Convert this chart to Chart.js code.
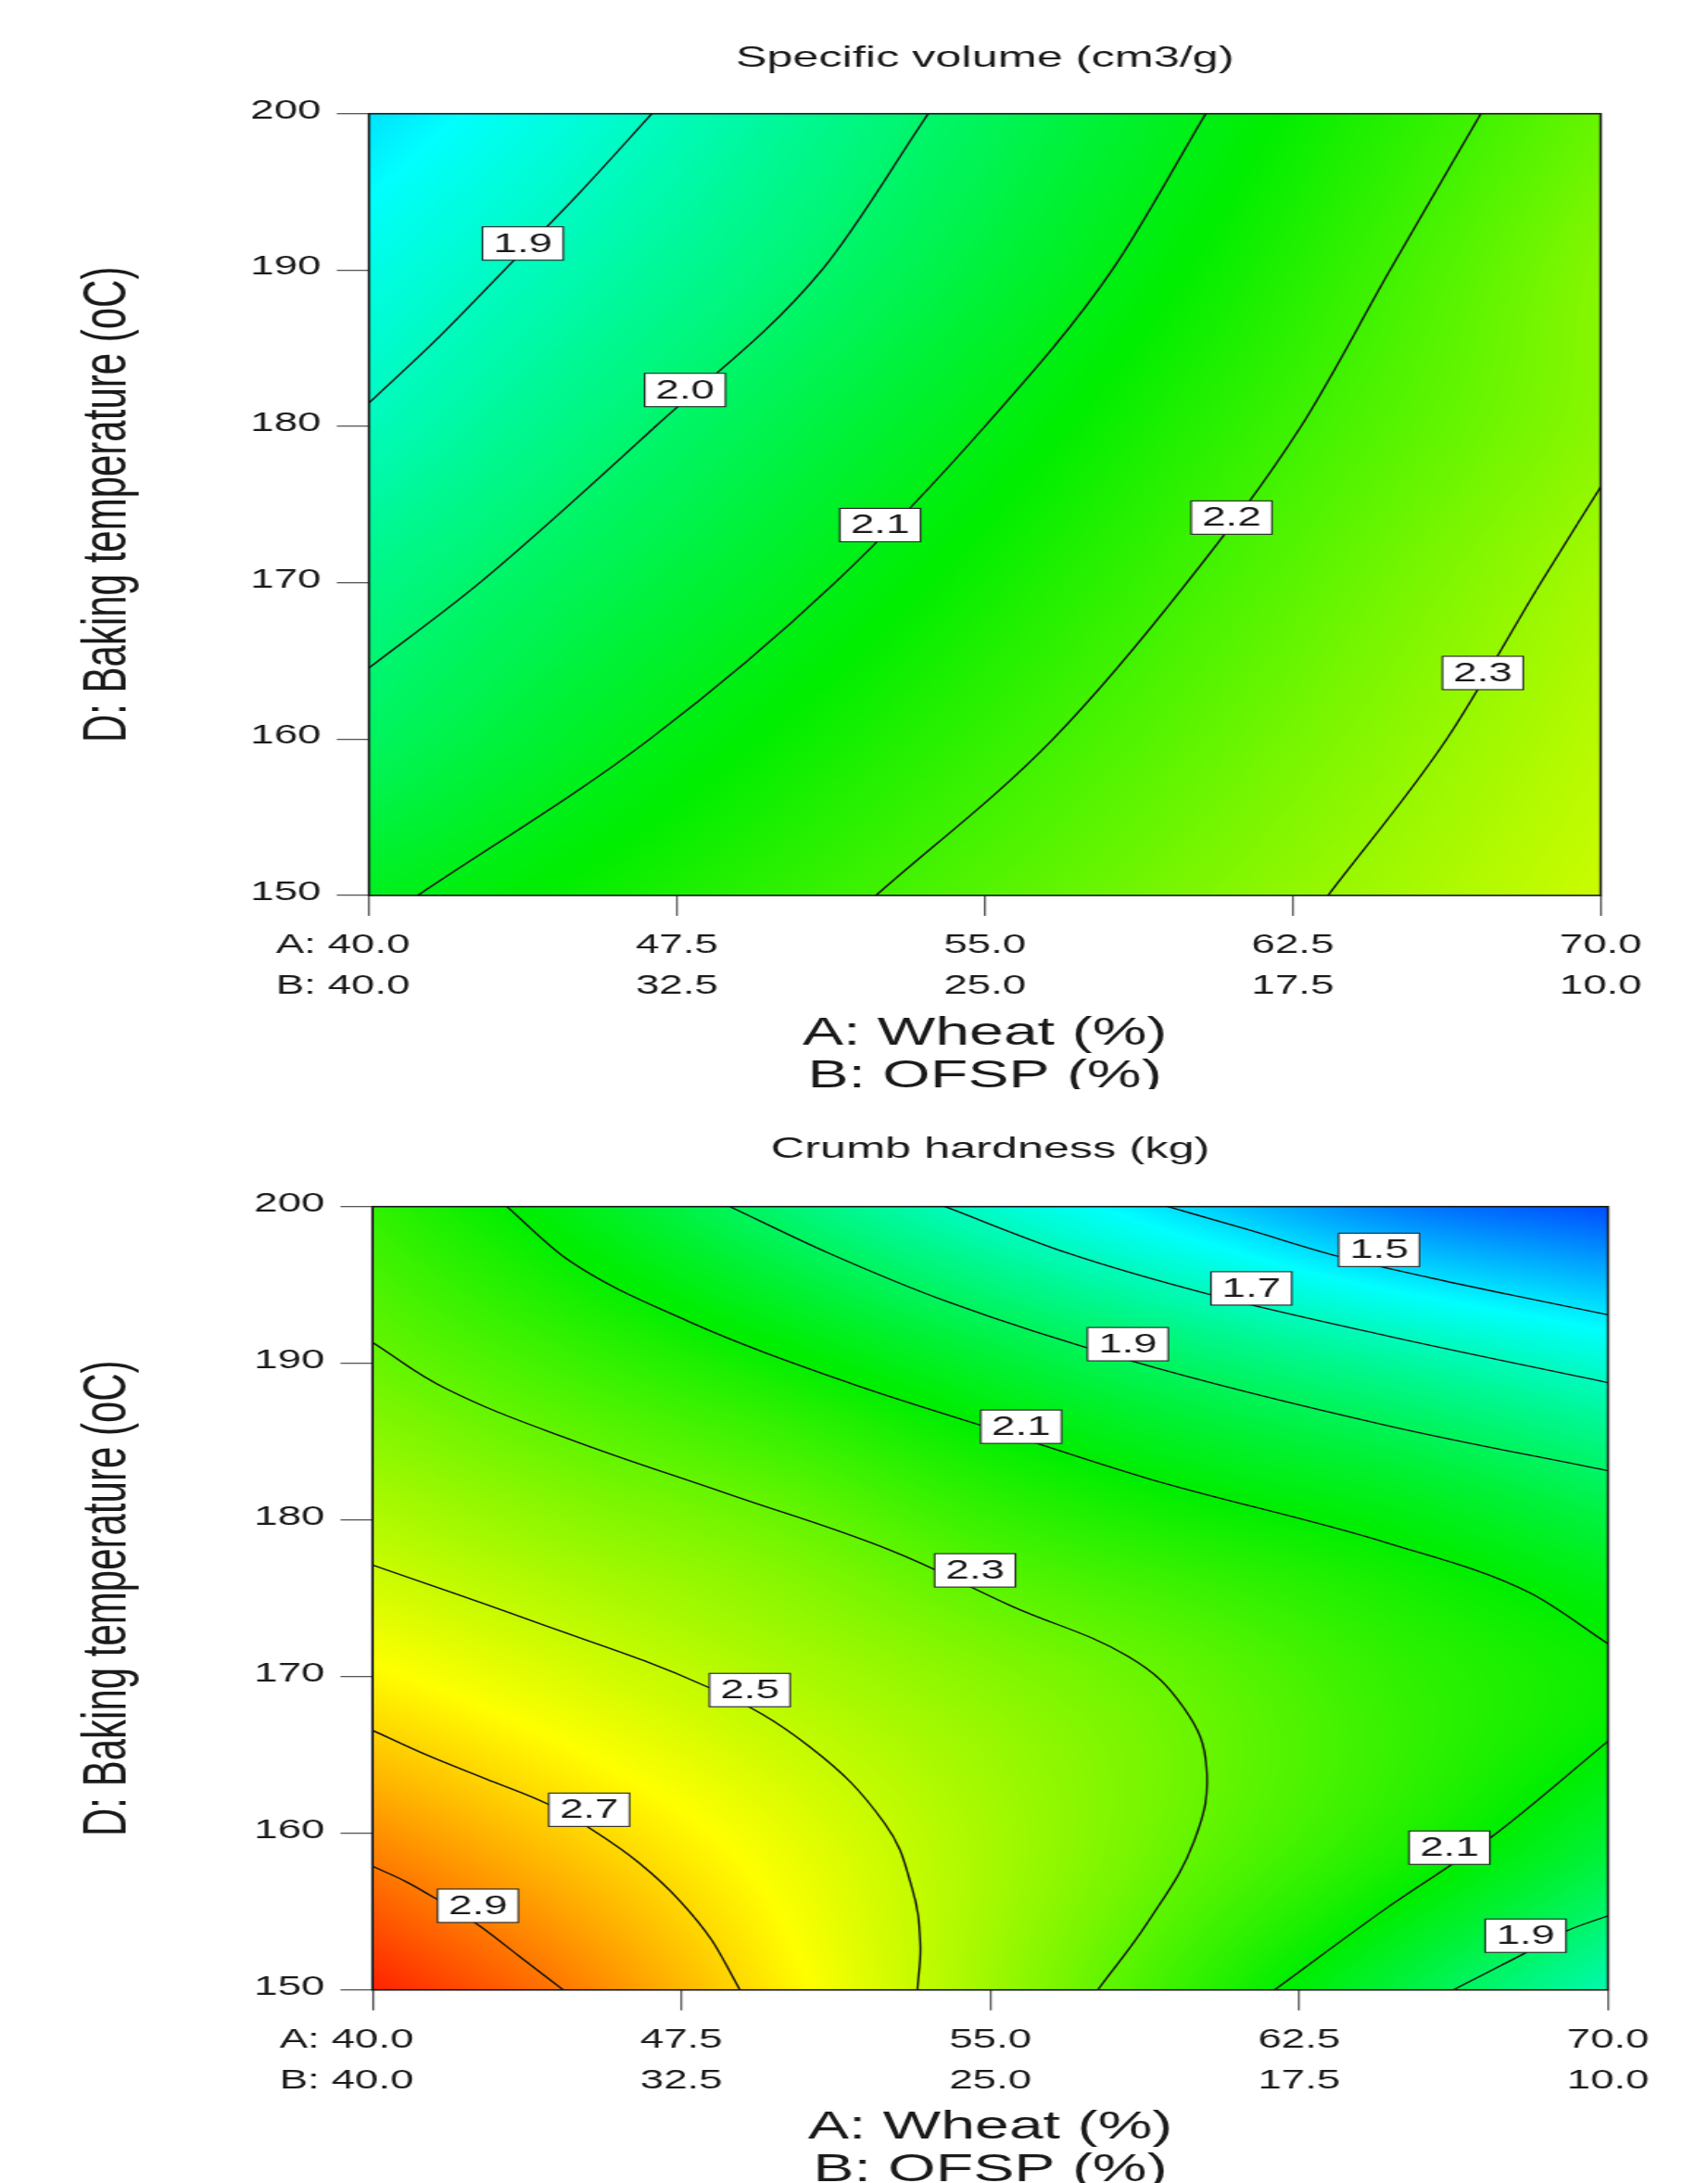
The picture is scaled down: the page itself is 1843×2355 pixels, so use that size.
<!DOCTYPE html>
<html>
<head>
<meta charset="utf-8">
<script src="https://cdn.jsdelivr.net/npm/chart.js@4.4.0/dist/chart.umd.min.js"></script>
<style>
  html, body { margin: 0; padding: 0; background: #fff; overflow: hidden; }
  /* the reference figure is a square plot stretched sideways, so each panel is drawn narrow and scaled in x */
  .panel { position: absolute; left: 0; width: 1170px; transform-origin: 0 0; transform: scaleX(1.5752); }
  #p1 { top: 0; height: 1175px; }
  #p2 { top: 1177px; height: 1178px; }
</style>
</head>
<body>
<div class="panel" id="p1"><canvas id="c1" width="1170" height="1175"></canvas></div>
<div class="panel" id="p2"><canvas id="c2" width="1170" height="1178"></canvas></div>
<script>
var FONT = '"Liberation Sans", Arial, sans-serif';
var TXT = '#1a1a1a';

// axis ticks
var xTicksA = ['40.0', '47.5', '55.0', '62.5', '70.0'];
var xTicksB = ['40.0', '32.5', '25.0', '17.5', '10.0'];
var yTicks = [150, 160, 170, 180, 190, 200];

var gridA = [40, 45, 50, 55, 60, 65, 70];
var gridD = [150, 160, 170, 180, 190, 200];

// ---- Specific volume (cm3/g) ----
var svGrid = [
  [2.089, 2.134, 2.179, 2.224, 2.269, 2.315, 2.360],
  [2.015, 2.077, 2.132, 2.183, 2.235, 2.287, 2.339],
  [1.969, 2.027, 2.084, 2.143, 2.201, 2.259, 2.317],
  [1.908, 1.974, 2.038, 2.100, 2.165, 2.226, 2.285],
  [1.858, 1.922, 1.987, 2.056, 2.128, 2.202, 2.279],
  [1.797, 1.872, 1.946, 2.020, 2.094, 2.169, 2.244]
];
var sv19 = [[40, 181.5], [41.7, 185.7], [43.3, 190], [45.15, 195], [46.89, 200]];
var sv20 = [[40, 164.55], [42.7, 170], [46.98, 180], [51.03, 190], [53.62, 200]];
var sv21 = [[41.19, 150], [46.84, 160], [51.35, 170], [55.0, 180], [58.10, 190], [60.38, 200]];
var sv22 = [[52.35, 150], [56.66, 160], [59.92, 170], [62.70, 180], [64.87, 190], [67.08, 200]];
var sv23 = [[63.36, 150], [66.25, 160], [68.54, 170], [70, 176.13]];
var svLabels = [['1.9', 43.75, 191.7], ['2.0', 47.70, 182.33], ['2.1', 52.45, 173.69], ['2.2', 61.01, 174.17], ['2.3', 67.13, 164.23]];

// ---- Crumb hardness (kg) ----
var chGrid = [
  [3.08, 2.883, 2.65, 2.419, 2.189, 1.957, 1.725],
  [2.851, 2.71, 2.573, 2.435, 2.30, 2.163, 1.995],
  [2.635, 2.541, 2.45, 2.369, 2.29, 2.19, 2.115],
  [2.459, 2.379, 2.31, 2.203, 2.125, 2.06, 1.957],
  [2.31, 2.211, 2.107, 1.988, 1.871, 1.762, 1.645],
  [2.19, 2.036, 1.849, 1.659, 1.474, 1.29, 1.19]
];
var ch15 = [[59.31, 200], [61.27, 198.52], [63.41, 196.85], [65.66, 195.47], [67.61, 194.38], [70, 193.1]];
var ch17 = [[53.9, 200], [56.87, 197.04], [60.34, 194.38], [64.68, 191.72], [70, 188.76]];
var ch19a = [[48.68, 200], [51.07, 197.04], [54.0, 193.89], [58.44, 190.14], [64.68, 186.0], [70, 183.14]];
var ch21a = [[43.26, 200], [44.72, 196.65], [47.65, 192.7], [51.56, 188.76], [55.3, 185.6], [58.83, 182.64], [64.68, 178.5], [68.10, 175.35], [70, 172.09]];
var ch23 = [[40, 191.33], [41.79, 188.37], [44.72, 185.21], [48.63, 181.66], [52.53, 178.11], [55.5, 174.52], [58.34, 171.30], [59.7, 168.0], [60.25, 164.2], [59.95, 159.5], [58.83, 154.34], [57.61, 150]];
var ch25 = [[40, 177.12], [43.75, 173.67], [48.14, 169.33], [50.58, 165.59], [52.43, 160.65], [53.1, 156.5], [53.3, 153], [53.23, 150]];
var ch27 = [[40, 166.57], [41.31, 165.0], [42.77, 163.45], [44.28, 161.83], [45.31, 160.26], [46.48, 158.09], [47.45, 155.72], [48.24, 153.16], [48.92, 150]];
var ch29 = [[40, 157.89], [40.82, 156.9], [41.6, 155.72], [42.57, 154.14], [43.55, 152.17], [44.63, 150]];
var ch21b = [[61.90, 150], [64.68, 155.33], [67.22, 159.86], [70, 165.88]];
var ch19b = [[66.24, 150], [67.12, 151.18], [68.0, 152.37], [68.98, 153.75], [70, 154.73]];
var chLabels = [['1.5', 64.44, 197.24], ['1.7', 61.34, 194.78], ['1.9', 58.34, 191.22], ['2.1', 55.75, 185.95], ['2.3', 54.63, 176.78],
                ['2.5', 49.16, 169.14], ['2.7', 45.26, 161.5], ['2.9', 42.56, 155.37], ['2.1', 66.15, 159.08], ['1.9', 68.0, 153.46]];

// colour ramp blue -> cyan -> green -> yellow -> red
var rampStops = [[0, [0, 0, 255]], [0.25, [0, 255, 255]], [0.5, [0, 238, 0]], [0.75, [255, 255, 0]], [1, [255, 0, 0]]];
function rampColor(t) {
  if (t <= 0) return rampStops[0][1];
  if (t >= 1) return rampStops[rampStops.length - 1][1];
  for (var i = 1; i < rampStops.length; i++) {
    if (t <= rampStops[i][0]) {
      var a = rampStops[i - 1], b = rampStops[i];
      var f = (t - a[0]) / (b[0] - a[0]);
      return [a[1][0] + (b[1][0] - a[1][0]) * f, a[1][1] + (b[1][1] - a[1][1]) * f, a[1][2] + (b[1][2] - a[1][2]) * f];
    }
  }
}

// smooth reading between the grid values
function cr(p0, p1, p2, p3, t) {
  return p1 + 0.5 * t * (p2 - p0 + t * (2 * p0 - 5 * p1 + 4 * p2 - p3 + t * (3 * (p1 - p2) + p3 - p0)));
}
function gridVal(g, r, c) {
  var nr = g.length, nc = g[0].length;
  if (r < 0) return 2 * gridVal(g, 0, c) - gridVal(g, 1, c);
  if (r >= nr) return 2 * gridVal(g, nr - 1, c) - gridVal(g, nr - 2, c);
  if (c < 0) return 2 * g[r][0] - g[r][1];
  if (c >= nc) return 2 * g[r][nc - 1] - g[r][nc - 2];
  return g[r][c];
}
function surfaceAt(g, A, D) {
  var gx = (A - gridA[0]) / (gridA[1] - gridA[0]);
  var gy = (D - gridD[0]) / (gridD[1] - gridD[0]);
  var c = Math.min(Math.max(Math.floor(gx), 0), g[0].length - 2);
  var r = Math.min(Math.max(Math.floor(gy), 0), g.length - 2);
  var fx = gx - c, fy = gy - r;
  var rows = [];
  for (var k = -1; k <= 2; k++) {
    rows.push(cr(gridVal(g, r + k, c - 1), gridVal(g, r + k, c), gridVal(g, r + k, c + 1), gridVal(g, r + k, c + 2), fx));
  }
  return cr(rows[0], rows[1], rows[2], rows[3], fy);
}

function surfacePlugin(grid, lo, hi) {
  return {
    id: 'surface',
    beforeDatasetsDraw: function(chart) {
      var a = chart.chartArea, xs = chart.scales.x, ys = chart.scales.y;
      var w = Math.round(a.right - a.left), h = Math.round(a.bottom - a.top);
      var off = document.createElement('canvas');
      off.width = w; off.height = h;
      var octx = off.getContext('2d');
      var img = octx.createImageData(w, h), d = img.data;
      var colA = [], rowD = [];
      for (var i = 0; i < w; i++) colA.push(xs.getValueForPixel(a.left + (i + 0.5) * (a.right - a.left) / w));
      for (var j = 0; j < h; j++) rowD.push(ys.getValueForPixel(a.top + (j + 0.5) * (a.bottom - a.top) / h));
      for (j = 0; j < h; j++) {
        for (i = 0; i < w; i++) {
          var c = rampColor((surfaceAt(grid, colA[i], rowD[j]) - lo) / (hi - lo));
          var k = (j * w + i) * 4;
          d[k] = c[0]; d[k + 1] = c[1]; d[k + 2] = c[2]; d[k + 3] = 255;
        }
      }
      octx.putImageData(img, 0, 0);
      chart.ctx.drawImage(off, a.left, a.top, a.right - a.left, a.bottom - a.top);
    }
  };
}

function labelPlugin(labels) {
  return {
    id: 'contourLabels',
    afterDatasetsDraw: function(chart) {
      var ctx = chart.ctx, xs = chart.scales.x, ys = chart.scales.y, a = chart.chartArea;
      ctx.save();
      // plot frame
      ctx.strokeStyle = '#151515';
      ctx.lineWidth = 1.6;
      ctx.strokeRect(a.left, a.top, a.right - a.left, a.bottom - a.top);
      ctx.font = '29px ' + FONT;
      ctx.textAlign = 'center';
      ctx.textBaseline = 'middle';
      labels.forEach(function(l) {
        var px = xs.getPixelForValue(l[1]), py = ys.getPixelForValue(l[2]);
        var tw = ctx.measureText(l[0]).width;
        var bw = tw + 15, bh = 36;
        ctx.fillStyle = '#fff';
        ctx.fillRect(px - bw / 2, py - bh / 2, bw, bh);
        ctx.strokeStyle = '#222';
        ctx.lineWidth = 1.1;
        ctx.strokeRect(px - bw / 2, py - bh / 2, bw, bh);
        ctx.fillStyle = TXT;
        ctx.fillText(l[0], px, py + 1);
      });
      ctx.restore();
    }
  };
}

// "A:" / "B:" in front of the first x tick
var prefixPlugin = {
  id: 'prefix',
  afterDraw: function(chart) {
    var xs = chart.scales.x, ctx = chart.ctx;
    var lh = 29 * 1.52;
    var px = xs.getPixelForValue(40);
    var y1 = xs.top + 22 + 10 + lh / 2;
    ctx.save();
    ctx.font = '29px ' + FONT;
    ctx.fillStyle = TXT;
    ctx.textAlign = 'right';
    ctx.textBaseline = 'middle';
    ctx.fillText('A: ', px - ctx.measureText(xTicksA[0]).width / 2, y1);
    ctx.fillText('B: ', px - ctx.measureText(xTicksB[0]).width / 2, y1 + lh);
    ctx.restore();
  }
};

function isMonotone(pts) {
  for (var i = 1; i < pts.length; i++) if (pts[i][0] <= pts[i - 1][0]) return false;
  return true;
}

function makeChart(id, o) {
  var ctx = document.getElementById(id).getContext('2d');
  return new Chart(ctx, {
    type: 'scatter',
    data: {
      datasets: o.lines.map(function(pts) {
        var ds = {
          data: pts.map(function(p) { return { x: p[0], y: p[1] }; }),
          showLine: true, pointRadius: 0, borderColor: '#111', borderWidth: 1.4, fill: false
        };
        if (isMonotone(pts)) ds.cubicInterpolationMode = 'monotone';
        else ds.tension = 0.4;
        return ds;
      })
    },
    options: {
      responsive: false,
      animation: false,
      devicePixelRatio: 1,
      layout: { padding: { left: 0, right: o.padRight, top: 0, bottom: -9.5 } },
      plugins: {
        legend: { display: false },
        tooltip: { enabled: false },
        title: {
          display: true, text: o.title, fullSize: false, color: TXT,
          font: { family: FONT, size: 32, weight: 'normal', lineHeight: 1.2 },
          padding: { top: o.titleTop, bottom: o.titleBottom }
        }
      },
      scales: {
        x: {
          type: 'linear', position: 'bottom', min: 40, max: 70,
          afterFit: function(s) { s.height = o.xHeight; s.paddingLeft = 0; s.paddingRight = 0; s.paddingTop = 0; s.paddingBottom = 0; },
          grid: { drawOnChartArea: false, drawTicks: true, tickLength: 22, color: '#555', lineWidth: 1.3 },
          border: { display: false },
          ticks: {
            stepSize: 7.5, autoSkip: false, maxRotation: 0, padding: 10, color: TXT,
            font: { family: FONT, size: 29, lineHeight: 1.52 },
            callback: function(v, i) { return [xTicksA[i], xTicksB[i]]; }
          },
          title: {
            display: true, text: ['A: Wheat (%)', 'B: OFSP (%)'], color: TXT,
            font: { family: FONT, size: 42, lineHeight: 1.1 }, padding: { top: 0, bottom: 0 }
          }
        },
        y: {
          type: 'linear', position: 'left', min: yTicks[0], max: yTicks[yTicks.length - 1],
          afterFit: function(s) { s.width = o.yWidth; s.paddingLeft = 0; s.paddingRight = 0; s.paddingTop = 0; s.paddingBottom = 0; },
          grid: { drawOnChartArea: false, drawTicks: true, tickLength: 22, color: '#555', lineWidth: 1.3 },
          border: { display: false },
          ticks: {
            stepSize: 10, padding: 10.7, labelOffset: -3, color: TXT,
            font: { family: FONT, size: 29 },
            callback: function(v) { return String(v); }
          },
          title: {
            display: true, text: 'D: Baking temperature (oC)', color: TXT,
            font: { family: FONT, size: 42, lineHeight: 1.2 }, padding: { top: 49, bottom: 0 }
          }
        }
      }
    },
    plugins: [surfacePlugin(o.grid, o.lo, o.hi), labelPlugin(o.labels), prefixPlugin]
  });
}

makeChart('c1', {
  title: 'Specific volume (cm3/g)',
  lines: [sv19, sv20, sv21, sv22, sv23],
  labels: svLabels,
  grid: svGrid, lo: 1.535, hi: 2.715,
  padRight: 73.5, yWidth: 252.7, xHeight: 218.5,
  titleTop: 43.8, titleBottom: 40.5
});

makeChart('c2', {
  title: 'Crumb hardness (kg)',
  lines: [ch15, ch17, ch19a, ch21a, ch23, ch25, ch27, ch29, ch21b, ch19b],
  labels: chLabels,
  grid: chGrid, lo: 1.03, hi: 3.15,
  padRight: 68.5, yWidth: 255.2, xHeight: 217.8,
  titleTop: 44.4, titleBottom: 41.9
});
</script>
</body>
</html>
